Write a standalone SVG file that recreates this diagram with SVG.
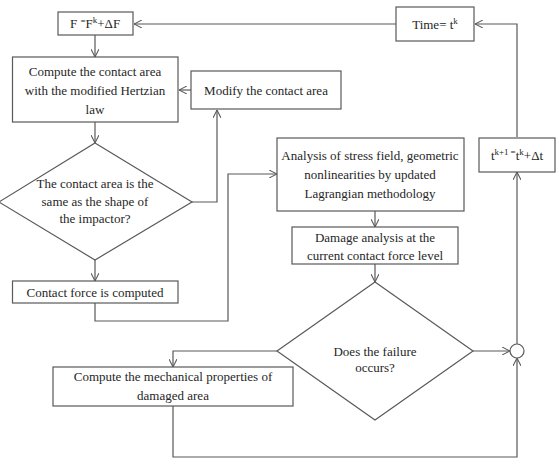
<svg xmlns="http://www.w3.org/2000/svg" width="559" height="464" viewBox="0 0 559 464">
<defs>
<style>
.b{fill:#fff;stroke:#595959;stroke-width:1.2}
.c{fill:none;stroke:#595959;stroke-width:1.2}
text{font-family:"Liberation Serif","Times New Roman",serif;font-size:13px;fill:#262626;text-anchor:middle}
.s{font-size:9px}
</style>
<marker id="a" viewBox="0 0 10 10" refX="10" refY="5" markerWidth="8" markerHeight="8" markerUnits="userSpaceOnUse" orient="auto">
<path d="M0,0 L10,5 L0,10" fill="none" stroke="#595959" stroke-width="1.3"/>
</marker>
</defs>
<rect width="559" height="464" fill="#fff"/>
<g id="connectors">
<path class="c" d="M396,24 H134" marker-end="url(#a)"/>
<path class="c" d="M95,35 V57" marker-end="url(#a)"/>
<path class="c" d="M191,90 H179" marker-end="url(#a)"/>
<path class="c" d="M95,122 V143" marker-end="url(#a)"/>
<path class="c" d="M192,202 H217 V110" marker-end="url(#a)"/>
<path class="c" d="M95,260 V281" marker-end="url(#a)"/>
<path class="c" d="M95,303 V321 H228 V174 H277" marker-end="url(#a)"/>
<path class="c" d="M517,137 V24 H475" marker-end="url(#a)"/>
<path class="c" d="M375,211 V227" marker-end="url(#a)"/>
<path class="c" d="M375,264 V282" marker-end="url(#a)"/>
<path class="c" d="M473,351 H510" marker-end="url(#a)"/>
<path class="c" d="M517,344 V172" marker-end="url(#a)"/>
<path class="c" d="M277,351 H173 V367" marker-end="url(#a)"/>
<path class="c" d="M173,406 V457 H517 V358" marker-end="url(#a)"/>
</g>
<g id="n-force">
<rect class="b" x="58" y="12" width="75" height="23"/>
<text x="95" y="28">F <tspan class="s" dy="-4">=</tspan><tspan dy="4">F</tspan><tspan class="s" dy="-5">k</tspan><tspan dy="5">+ΔF</tspan></text>
</g>
<g id="n-compute">
<rect class="b" x="12.5" y="57" width="165.5" height="65"/>
<text x="95" y="76">Compute the contact area</text>
<text x="95" y="95">with the modified Hertzian</text>
<text x="95" y="114">law</text>
</g>
<g id="n-modify">
<rect class="b" x="191" y="71" width="150" height="38"/>
<text x="266" y="95">Modify the contact area</text>
</g>
<g id="n-decision1">
<polygon class="b" points="95,143 192,202 95,260 -1,202"/>
<text x="95" y="188">The contact area is the</text>
<text x="95" y="206">same as the shape of</text>
<text x="95" y="223">the impactor?</text>
</g>
<g id="n-contact">
<rect class="b" x="12.5" y="281" width="165.5" height="22"/>
<text x="95" y="297">Contact force is computed</text>
</g>
<g id="n-time">
<rect class="b" x="396" y="7" width="78" height="34"/>
<text x="435" y="29">Time= t<tspan class="s" dy="-5">k</tspan></text>
</g>
<g id="n-analysis">
<rect class="b" x="277" y="138" width="187" height="73"/>
<text x="370" y="160">Analysis  of stress field,  geometric</text>
<text x="370" y="179">nonlinearities  by updated</text>
<text x="370" y="198">Lagrangian  methodology</text>
</g>
<g id="n-tupdate">
<rect class="b" x="479" y="138" width="76" height="34"/>
<text x="517" y="160">t<tspan class="s" dy="-5">k+1</tspan><tspan class="s" dx="2">=</tspan><tspan dy="5">t</tspan><tspan class="s" dy="-5">k</tspan><tspan dy="5">+Δt</tspan></text>
</g>
<g id="n-damage">
<rect class="b" x="292" y="227" width="166" height="37"/>
<text x="375" y="242">Damage  analysis  at the</text>
<text x="375" y="260">current contact force level</text>
</g>
<g id="n-decision2">
<polygon class="b" points="375,282 473,351 375,420 277,351"/>
<text x="375" y="356">Does the  failure</text>
<text x="375" y="372">occurs?</text>
</g>
<g id="n-junction">
<circle class="b" cx="517" cy="351" r="7"/>
</g>
<g id="n-mech">
<rect class="b" x="53" y="367" width="240" height="39"/>
<text x="173" y="381">Compute the mechanical  properties of</text>
<text x="173" y="400">damaged area</text>
</g>
</svg>
